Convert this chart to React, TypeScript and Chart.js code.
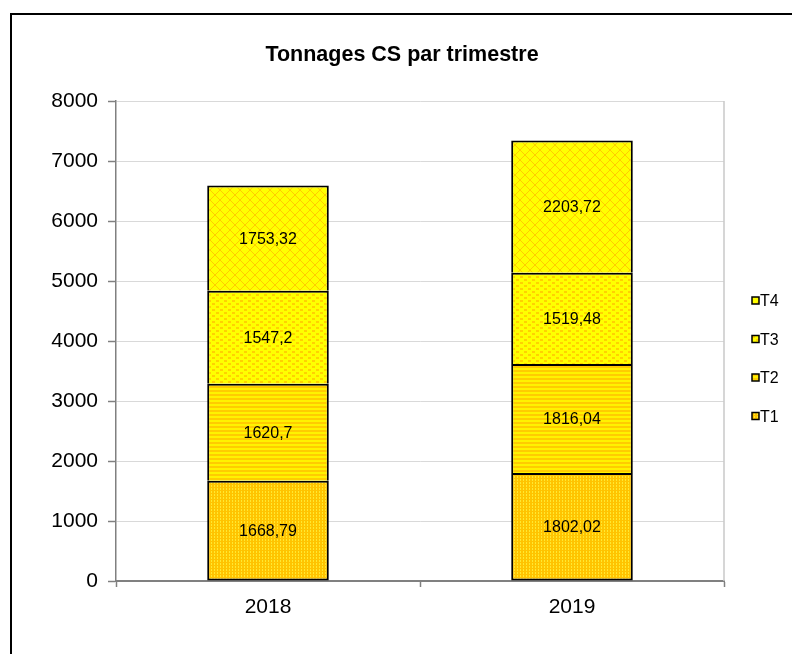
import React, { useEffect, useRef } from "react";
import { Chart, registerables } from "chart.js";

Chart.register(...registerables);

const categories = ["2018", "2019"];
const seriesNames = ["T1", "T2", "T3", "T4"];
const t1Values = [1668.79, 1802.02];
const t2Values = [1620.7, 1816.04];
const t3Values = [1547.2, 1519.48];
const t4Values = [1753.32, 2203.72];
const yMin = 0;
const yMax = 8000;
const yStep = 1000;
const titleText = "Tonnages CS par trimestre";

const FONT = "'Liberation Sans', Arial, sans-serif";

function makePattern(w: number, h: number, draw: (g: CanvasRenderingContext2D) => void) {
  const c = document.createElement("canvas");
  c.width = w;
  c.height = h;
  const g = c.getContext("2d")!;
  draw(g);
  const p = g.createPattern(c, "repeat");
  return p as CanvasPattern;
}

export default function App() {
  const ref = useRef<HTMLCanvasElement>(null);

  useEffect(() => {
    const canvas = ref.current!;
    const p1 = makePattern(3, 3, (g) => {
      g.fillStyle = "#FFC400";
      g.fillRect(0, 0, 3, 3);
      g.fillStyle = "#FFE830";
      g.fillRect(1, 0, 1, 1);
      g.fillRect(1, 2, 1, 1);
    });
    const p2 = makePattern(1, 4, (g) => {
      g.fillStyle = "#FFF200";
      g.fillRect(0, 0, 1, 4);
      g.fillStyle = "#FFCC00";
      g.fillRect(0, 2, 1, 2);
    });
    const p3 = makePattern(8, 6, (g) => {
      g.fillStyle = "#FFFF00";
      g.fillRect(0, 0, 8, 6);
      g.fillStyle = "#FFD200";
      g.fillRect(0, 0, 3, 2);
      g.fillRect(4, 3, 3, 2);
    });
    const p4 = makePattern(10, 10, (g) => {
      g.fillStyle = "#FFFF00";
      g.fillRect(0, 0, 10, 10);
      g.fillStyle = "#FFCC00";
      for (let i = 0; i < 10; i++) {
        g.fillRect(i, i, 1, 1);
        g.fillRect(9 - i, i, 1, 1);
      }
    });
    const patterns = [p1, p2, p3, p4];
    const values = [t1Values, t2Values, t3Values, t4Values];

    const framePlugin = {
      id: "frame",
      beforeDraw(chart: any) {
        const c = chart.ctx;
        c.save();
        c.fillStyle = "#ffffff";
        c.fillRect(0, 0, chart.width, chart.height);
        c.strokeStyle = "#000000";
        c.lineWidth = 2;
        c.strokeRect(11, 14, 1000, 1000);
        c.restore();
      },
      beforeDatasetsDraw(chart: any) {
        const c = chart.ctx;
        const a = chart.chartArea;
        c.save();
        c.strokeStyle = "#c8c8c8";
        c.lineWidth = 1.5;
        c.beginPath();
        c.moveTo(a.right, a.top);
        c.lineTo(a.right, a.bottom);
        c.stroke();
        c.restore();
      },
      afterDraw(chart: any) {
        const c = chart.ctx;
        c.save();
        c.fillStyle = "#000";
        c.font = `bold 21.5px ${FONT}`;
        c.textAlign = "center";
        c.textBaseline = "middle";
        c.fillText(titleText, 402, 55);
        c.font = `16px ${FONT}`;
        chart.data.datasets.forEach((ds: any, di: number) => {
          const meta = chart.getDatasetMeta(di);
          meta.data.forEach((bar: any, i: number) => {
            const v = ds.data[i];
            const y = (bar.y + bar.base) / 2 + 1;
            c.fillText(String(v).replace(".", ","), bar.x, y);
          });
        });
        c.textAlign = "left";
        c.font = `16px ${FONT}`;
        const order = [3, 2, 1, 0];
        order.forEach((di, k) => {
          const y = 301 + k * 38.5;
          c.fillStyle = patterns[di];
          c.fillRect(752, y - 4, 7, 7);
          c.strokeStyle = "#000";
          c.lineWidth = 1.5;
          c.strokeRect(752, y - 4, 7, 7);
          c.fillStyle = "#000";
          c.fillText(seriesNames[di], 760, y + 1);
        });
        c.restore();
      },
    };

    const chart = new Chart(canvas, {
      type: "bar",
      data: {
        labels: categories,
        datasets: seriesNames.map((name, i) => ({
          label: name,
          data: values[i],
          backgroundColor: patterns[i],
          borderColor: "#000000",
          borderWidth: 2,
          borderSkipped: i === 0 ? false : "start",
          barPercentage: 0.4,
          categoryPercentage: 1,
        })),
      },
      options: {
        responsive: false,
        animation: false,
        layout: { padding: { top: 101, right: 68, left: 0, bottom: 0 } },
        plugins: {
          legend: { display: false },
          title: { display: false },
          tooltip: { enabled: false },
        },
        scales: {
          x: {
            stacked: true,
            afterFit: (s: any) => {
              s.height = 73;
            },
            border: { color: "#808080", width: 2 },
            grid: {
              drawOnChartArea: false,
              tickLength: 6,
              tickColor: "#808080",
              tickWidth: 1.5,
              offset: true,
            },
            ticks: {
              color: "#000",
              font: { family: FONT, size: 21 },
              padding: 8,
            },
          },
          y: {
            stacked: true,
            min: yMin,
            max: yMax,
            afterFit: (s: any) => {
              s.width = 116;
            },
            border: { color: "#808080", width: 1.5 },
            grid: {
              color: "#d9d9d9",
              lineWidth: 1,
              tickLength: 8,
              tickColor: "#808080",
              tickWidth: 1.5,
            },
            ticks: {
              stepSize: yStep,
              color: "#000",
              font: { family: FONT, size: 21 },
              padding: 10,
              callback: (v: any) => String(v),
            },
          },
        },
      },
      plugins: [framePlugin],
    });
    return () => chart.destroy();
  }, []);

  return (
    <div style={{ position: "fixed", left: 0, top: 0, width: 792, height: 654, background: "#fff" }}>
      <canvas ref={ref} width={792} height={654} style={{ display: "block" }} />
    </div>
  );
}
